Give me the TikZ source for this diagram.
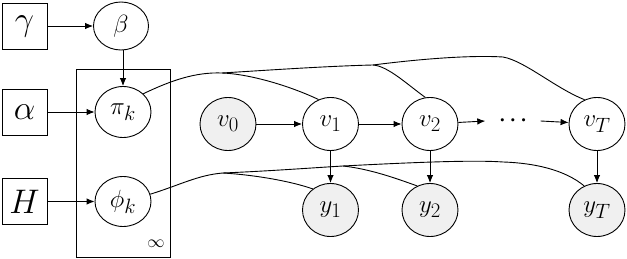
\documentclass[tikz,border=0pt]{standalone}
\usepackage{graphicx}
\usetikzlibrary{shapes.geometric,arrows.meta}
\newcommand{\bigsym}[1]{\scalebox{1.37}{$#1$}}
\begin{document}
\begin{tikzpicture}[x=1pt,y=-1pt,
  latent/.style={ellipse,draw,line width=0.9pt,minimum width=56pt,minimum height=53pt,inner sep=0pt,font=\fontsize{24.88}{30}\selectfont},
  obs/.style={latent,fill=black!6},
  hyper/.style={rectangle,draw,line width=0.9pt,minimum width=45pt,minimum height=46pt,inner sep=0pt,font=\fontsize{24.88}{30}\selectfont},
  arr/.style={-{Latex[length=8pt,width=6.5pt]},line width=0.9pt},
  link/.style={line width=0.9pt},
  dotsbox/.style={minimum width=55pt,inner sep=0pt,font=\fontsize{20.74}{25}\selectfont\boldmath},
]
\useasboundingbox (0,0) rectangle (627,259);
% plate
\node[draw,line width=0.9pt,minimum width=94pt,minimum height=188.5pt,inner sep=0pt] (plate) at (123,163.25) {};
\node[font=\fontsize{17.28}{20}\selectfont,inner sep=0pt] (inf) at (156,244) {$\infty$};
% hyperparameters
\node[hyper] (gamma) at (24.5,26) {\bigsym{\gamma}};
\node[hyper] (alpha) at (24.5,112) {\bigsym{\alpha}};
\node[hyper] (H) at (24.5,201.5) {\bigsym{H}};
% latent
\node[latent,minimum width=55pt,minimum height=48pt] (beta) at (121,26) {$\beta$};
\node[latent,minimum height=51pt] (pi) at (123,112) {$\pi_k$};
\node[latent,minimum height=50pt] (phi) at (123,201.5) {$\phi_k$};
\node[obs] (v0) at (228,124) {$v_0$};
\node[latent] (v1) at (330.5,124) {$v_1$};
\node[latent] (v2) at (430,124) {$v_2$};
\node[dotsbox] (dots) at (513,121) {$\cdots$};
\node[latent] (vT) at (597,124) {$v_T$};
\node[obs] (y1) at (330.5,210) {$y_1$};
\node[obs] (y2) at (430,210) {$y_2$};
\node[obs] (yT) at (597,210) {$y_T$};
% arrows
\draw[arr] (gamma) -- (beta);
\draw[arr] (beta.south -| pi.north) -- (pi.north);
\draw[arr] (alpha) -- (pi);
\draw[arr] (H) -- (phi);
\draw[arr] (v0) -- (v1);
\draw[arr] (v1) -- (v2);
\draw[arr] (v2) -- (dots.west);
\draw[arr] (dots.east) -- (vT);
\draw[arr] (v1) -- (y1);
\draw[arr] (v2) -- (y2);
\draw[arr] (vT) -- (yT);
% junction coordinates
\coordinate (ja) at (222,73);
\coordinate (jb) at (373,65);
\coordinate (jc) at (503,57);
\coordinate (jd) at (223,173);
\coordinate (je) at (343,166);
\coordinate (jf) at (503,162);
% curves from pi_k
\draw[link] (pi.42) .. controls (172,80) and (196,72) .. (ja) .. controls (250,74) and (290,86) .. (v1.116);
\draw[link] (ja) .. controls (270,70) and (330,66) .. (jb) .. controls (388,66) and (408,85) .. (v2.100);
\draw[link] (jb) .. controls (420,59) and (470,55) .. (jc) .. controls (525,61) and (555,88) .. (vT.117);
% curves from phi_k
\draw[link] (phi.15) .. controls (180,185) and (198,175) .. (jd) .. controls (255,175) and (290,181) .. (y1.130);
\draw[link] (jd) .. controls (270,171) and (310,168) .. (je) .. controls (370,169) and (395,178) .. (y2.118);
\draw[link] (je) .. controls (420,162) and (475,160) .. (jf) .. controls (535,163) and (565,170) .. (yT.118);
\end{tikzpicture}
\end{document}
